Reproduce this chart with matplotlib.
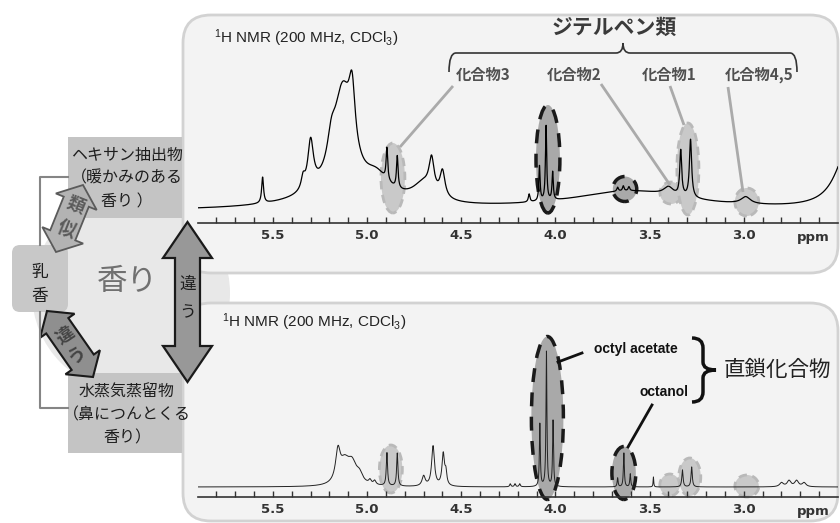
import numpy as np
import matplotlib
matplotlib.use('Agg')
import matplotlib.pyplot as plt
from matplotlib.patches import Ellipse, FancyBboxPatch, Circle, Polygon, PathPatch, Rectangle
from matplotlib.path import Path

plt.rcParams['font.family'] = ['Noto Sans CJK JP', 'DejaVu Sans']
plt.rcParams['mathtext.fontset'] = 'custom'
plt.rcParams['mathtext.rm'] = 'Liberation Sans'
plt.rcParams['mathtext.it'] = 'Liberation Sans'

# ---------------- data ----------------
# top spectrum (hexane extract): peak ppm, height (a.u.), half width (ppm)
top_const = 12
top_ppm = [5.555, 5.340, 5.300, 5.190, 5.150, 5.130, 5.080, 4.950, 4.895, 4.840,
           4.700, 4.658, 4.600, 4.140, 4.085, 4.050, 4.015, 3.600, 3.670, 3.640, 3.610,
           3.400, 3.335, 3.283, 2.990, 2.450]
top_height = [26, 12, 48, 25, 12, 100, 60, 20, 32, 32,
              18, 32, 26, 8, 35, 75, 28, 19, 4, 5, 4,
              8, 45, 58, 7, 58]
top_width = [0.006, 0.012, 0.018, 0.025, 0.300, 0.060, 0.020, 0.080, 0.005, 0.005,
             0.070, 0.016, 0.016, 0.005, 0.004, 0.004, 0.004, 0.400, 0.005, 0.005, 0.005,
             0.030, 0.006, 0.007, 0.030, 0.080]

# bottom spectrum (steam distillate)
bot_const = 10
bot_ppm = [5.155, 5.120, 5.080, 5.040, 4.985, 4.960, 4.895, 4.840, 4.700, 4.650, 4.596, 4.582,
           4.240, 4.215, 4.190, 4.083, 4.048, 4.013, 3.670, 3.637, 3.603, 3.480,
           3.326, 3.277, 2.800, 2.760, 2.720, 2.680]
bot_height = [30, 20, 20, 8, 4, 4, 33, 33, 10, 40, 32, 12,
              3, 3, 3, 63, 135, 66, 9, 34, 13, 10,
              17, 20, 4, 6, 6, 4]
bot_width = [0.015, 0.030, 0.030, 0.020, 0.008, 0.008, 0.004, 0.004, 0.010, 0.009, 0.008, 0.006,
             0.004, 0.004, 0.004, 0.003, 0.003, 0.003, 0.003, 0.003, 0.003, 0.002,
             0.004, 0.004, 0.012, 0.012, 0.012, 0.012]

tick_vals = [5.5, 5.0, 4.5, 4.0, 3.5, 3.0]
tick_labels = ['5.5', '5.0', '4.5', '4.0', '3.5', '3.0']
minor_vals = [5.8, 5.7, 5.6, 5.4, 5.3, 5.2, 5.1, 4.9, 4.8, 4.7, 4.6, 4.4, 4.3, 4.2, 4.1,
              3.9, 3.8, 3.7, 3.6, 3.4, 3.3, 3.2, 3.1, 2.9, 2.8, 2.7, 2.6]

terpene_labels = ['化合物3', '化合物2', '化合物1', '化合物4,5']

# ---------------- figure ----------------
W, H = 840, 523
fig = plt.figure(figsize=(W / 100, H / 100), dpi=100)
fig.patch.set_facecolor('white')


def px_axes(zorder):
    a = fig.add_axes([0, 0, 1, 1], zorder=zorder)
    a.set_xlim(0, W)
    a.set_ylim(H, 0)
    a.axis('off')
    a.patch.set_alpha(0)
    return a


ax0 = px_axes(0)
# background circle and panels
ax0.add_patch(Circle((131, 293), 99, fc='#e8e8e8', ec='none'))
for (x0, y0, w, h) in [(183, 15, 655, 258), (183, 303, 655, 218)]:
    ax0.add_patch(FancyBboxPatch((x0, y0), w, h, boxstyle='round,pad=0,rounding_size=28',
                                 fc='#f3f3f3', ec='#d2d2d2', lw=2))


def spectrum(x, const, ppm, hgt, wid):
    y = np.full_like(x, float(const))
    for p, h, w in zip(ppm, hgt, wid):
        y += h / (1 + ((x - p) / w) ** 2)
    return y


x = np.linspace(5.898, 2.50, 6000)


def make_axes(top_px, bot_px):
    left, right = 198, 838
    a = fig.add_axes([left / W, 1 - bot_px / H, (right - left) / W, (bot_px - top_px) / H], zorder=1)
    a.patch.set_alpha(0)
    a.set_xlim(5.898, 2.50)
    a.set_ylim(0, bot_px - top_px)
    for s in ['top', 'left', 'right']:
        a.spines[s].set_visible(False)
    a.spines['bottom'].set_color('#333333')
    a.spines['bottom'].set_linewidth(1.2)
    a.set_yticks([])
    a.set_xticks(tick_vals)
    a.set_xticklabels(tick_labels, fontfamily='DejaVu Sans', fontweight='bold', fontsize=9.5,
                      color='#333333')
    a.set_xticks(minor_vals, minor=True)
    a.tick_params(axis='x', which='both', direction='in', length=4, width=1, color='#333333', pad=4)
    return a


axT = make_axes(60, 223)
axB = make_axes(330, 497)

light = dict(fc='#c9c9c9', ec='#b9b9b9', lw=2, ls=(0, (3, 2)))
dark = dict(fc='#a9a9a9', ec='#1a1a1a', lw=2.5, ls=(0, (4, 3)))

top_ell = [((4.863, 45), 0.127, 70, light), ((4.040, 64), 0.127, 108, dark),
           ((3.632, 34), 0.127, 25, dark), ((3.387, 30), 0.117, 22, light),
           ((3.297, 54), 0.117, 92, light), ((2.984, 21), 0.127, 28, light)]
bot_ell = [((4.874, 28), 0.122, 48, light), ((4.043, 79), 0.170, 163, dark),
           ((3.637, 24), 0.127, 53, dark), ((3.393, 12), 0.106, 22, light),
           ((3.287, 20), 0.117, 38, light), ((2.984, 11), 0.127, 22, light)]
for a, ells in [(axT, top_ell), (axB, bot_ell)]:
    for c, w, h, st in ells:
        a.add_patch(Ellipse(c, w, h, clip_on=False, zorder=1, **st))

axT.plot(x, spectrum(x, top_const, top_ppm, top_height, top_width), color='black', lw=0.9, zorder=3)
axB.plot(x, spectrum(x, bot_const, bot_ppm, bot_height, bot_width), color='#222222', lw=0.7, zorder=3)

# ---------------- overlay ----------------
ov = px_axes(5)
en = dict(fontfamily='Liberation Sans')
nmr = r'$^{1}$H NMR (200 MHz, CDCl$_{3}$)'
ov.text(214, 38, nmr, fontsize=11, color='#222222', va='center', ha='left', **en)
ov.text(222, 322, nmr, fontsize=11, color='#222222', va='center', ha='left', **en)
for yy in (237, 511):
    ov.text(813, yy, 'ppm', fontsize=9.5, fontweight='bold', color='#333333', ha='center', va='center',
            fontfamily='DejaVu Sans')

# ジテルペン類 brace
ov.text(614, 27, 'ジテルペン類', fontsize=15, fontweight='bold', color='#3a3a3a', ha='center', va='center')
verts = [(449, 72), (449, 53), (456, 53), (616, 53), (623, 53), (623, 43), (623, 53), (630, 53),
         (790, 53), (797, 53), (797, 72)]
codes = [Path.MOVETO, Path.CURVE3, Path.CURVE3, Path.LINETO, Path.CURVE3, Path.CURVE3,
         Path.CURVE3, Path.CURVE3, Path.LINETO, Path.CURVE3, Path.CURVE3]
ov.add_patch(PathPatch(Path(verts, codes), fc='none', ec='#333333', lw=1.2))

lab_pos = [(483, 75), (574, 75), (669, 75), (759, 75)]
for t, (lx, ly) in zip(terpene_labels, lab_pos):
    ov.text(lx, ly, t, fontsize=11, fontweight='bold', color='#505050', ha='center', va='center')
leaders = [((453, 86), (400, 147)), ((601, 84), (670, 185)), ((670, 86), (684, 125)),
           ((728, 87), (743, 192))]
for p, q in leaders:
    ov.plot([p[0], q[0]], [p[1], q[1]], color='#aaaaaa', lw=2, solid_capstyle='butt')

# straight-chain compounds
ov.text(636, 349, 'octyl acetate', fontsize=10, fontweight='bold', color='#111111', ha='center',
        va='center', **en)
ov.text(689, 392, 'octanol', fontsize=10, fontweight='bold', color='#111111', ha='right',
        va='center', **en)
ov.plot([558, 582], [362, 353], color='#111111', lw=2)
ov.plot([652, 628], [405, 447], color='#111111', lw=2)
verts = [(692, 338), (703, 338), (703, 348), (703, 362), (703, 370), (716, 370), (703, 370),
         (703, 378), (703, 392), (703, 402), (692, 402)]
codes = [Path.MOVETO, Path.CURVE3, Path.CURVE3, Path.LINETO, Path.CURVE3, Path.CURVE3,
         Path.CURVE3, Path.CURVE3, Path.LINETO, Path.CURVE3, Path.CURVE3]
ov.add_patch(PathPatch(Path(verts, codes), fc='none', ec='#111111', lw=2.5))
ov.text(777, 370, '直鎖化合物', fontsize=15.5, color='#222222', ha='center', va='center')

# ---------------- left diagram ----------------
ov.plot([68, 40, 40], [177, 177, 245], color='#858585', lw=1.5)
ov.plot([40, 40, 68], [312, 408, 408], color='#858585', lw=1.5)
ov.add_patch(Rectangle((68, 137), 114, 81, fc='#c4c4c4', ec='none'))
ov.add_patch(Rectangle((68, 373), 114, 80, fc='#c4c4c4', ec='none'))
ov.add_patch(FancyBboxPatch((12, 245), 56, 67, boxstyle='round,pad=0,rounding_size=8',
                            fc='#c8c8c8', ec='none'))
for t, yy in zip(['ヘキサン抽出物', '（暖かみのある', '香り ）'], [155, 178, 202]):
    ov.text(127, yy, t, fontsize=11.5, color='#1e1e1e', ha='center', va='center')
for t, yy in zip(['水蒸気蒸留物', '（鼻につんとくる', '香り）'], [392, 415, 438]):
    ov.text(127, yy, t, fontsize=11.5, color='#1e1e1e', ha='center', va='center')
ov.text(40, 272, '乳', fontsize=12, color='#1e1e1e', ha='center', va='center')
ov.text(40, 297, '香', fontsize=12, color='#1e1e1e', ha='center', va='center')
ov.text(127, 281, '香り', fontsize=22, color='#707070', ha='center', va='center')


def double_arrow(p0, p1, shaft_w, head_w, head_l, **kw):
    p0 = np.array(p0, float)
    p1 = np.array(p1, float)
    d = p1 - p0
    u = d / np.hypot(*d)
    n = np.array([-u[1], u[0]])
    pts = [p0, p0 + u * head_l + n * head_w / 2, p0 + u * head_l + n * shaft_w / 2,
           p1 - u * head_l + n * shaft_w / 2, p1 - u * head_l + n * head_w / 2, p1,
           p1 - u * head_l - n * head_w / 2, p1 - u * head_l - n * shaft_w / 2,
           p0 + u * head_l - n * shaft_w / 2, p0 + u * head_l - n * head_w / 2]
    return Polygon(pts, closed=True, joinstyle='miter', **kw)


ov.add_patch(double_arrow((187.5, 222), (187.5, 382), 25, 49, 36, fc='#989898', ec='#1a1a1a', lw=1.6))
ov.text(188, 284, '違', fontsize=12, color='#1e1e1e', ha='center', va='center')
ov.text(188, 313, 'う', fontsize=12, color='#1e1e1e', ha='center', va='center')

ov.add_patch(double_arrow((56, 252), (83, 185), 27, 44, 18, fc='#b3b3b3', ec='#5a5a5a', lw=1.3))
ov.text(76, 206, '類', fontsize=13, fontweight='bold', color='#5a5a5a', ha='center', va='center',
        rotation=-22)
ov.text(66, 230, '似', fontsize=13, fontweight='bold', color='#5a5a5a', ha='center', va='center',
        rotation=-22)

ov.add_patch(double_arrow((47, 311), (93, 377), 27, 42, 18, fc='#8f8f8f', ec='#1a1a1a', lw=1.5))
ov.text(65, 335, '違', fontsize=13, fontweight='bold', color='#444444', ha='center', va='center',
        rotation=34)
ov.text(77, 355, 'う', fontsize=13, fontweight='bold', color='#444444', ha='center', va='center',
        rotation=34)

fig.savefig('out.png', dpi=100, facecolor='white')
